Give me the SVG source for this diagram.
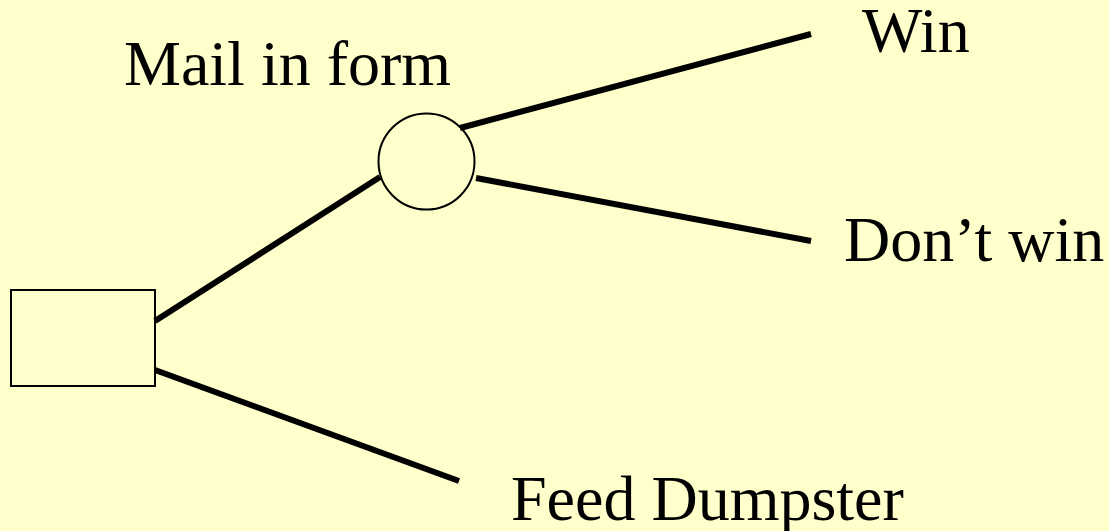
<svg xmlns="http://www.w3.org/2000/svg" width="1109" height="531" viewBox="0 0 1109 531">
<style>
.bg{fill:#FFFFCC}
.node{fill:none;stroke:#000;stroke-width:2}
.edge{stroke:#000;stroke-width:6;fill:none}
.lbl{font-family:"Liberation Serif","Times New Roman",serif;font-size:64px;fill:#000}
</style>
<rect class="bg" x="0" y="0" width="1109" height="531"/>
<g id="connectors">
<line class="edge" x1="155" y1="321" x2="380" y2="177"/>
<line class="edge" x1="155" y1="370" x2="459" y2="481"/>
<line class="edge" x1="460" y1="128" x2="811" y2="34"/>
<line class="edge" x1="476" y1="178" x2="811" y2="241"/>
</g>
<g id="decision">
<rect class="node" x="11" y="290" width="144" height="96"/>
</g>
<g id="chance">
<circle class="node" cx="426.5" cy="161.5" r="48"/>
</g>
<g id="label-mail"><text class="lbl" x="124" y="85">Mail in form</text></g>
<g id="label-win"><text class="lbl" x="862" y="52">Win</text></g>
<g id="label-dontwin"><text class="lbl" x="844" y="261">Don’t win</text></g>
<g id="label-feed"><text class="lbl" x="511" y="520">Feed Dumpster</text></g>
</svg>
